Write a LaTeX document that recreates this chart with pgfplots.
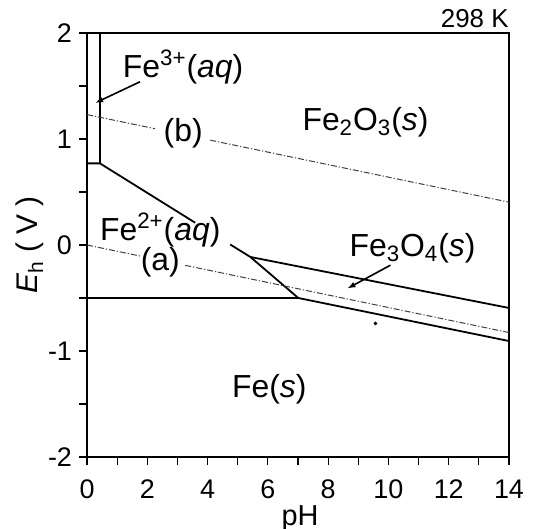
\documentclass[border=0pt]{standalone}
\usepackage{fontspec}
\setmainfont{Liberation Sans}
\usepackage{pgfplots}
\pgfplotsset{compat=1.18}
\usetikzlibrary{arrows.meta}

\newcommand{\lab}{\fontsize{16}{18}\selectfont}

\begin{document}
\begin{tikzpicture}
\begin{axis}[
  scale only axis,
  width=211bp, height=212bp,
  xmin=0, xmax=14, ymin=-2, ymax=2,
  clip=false,
  xtick={0,2,...,14}, minor xtick={1,3,...,13},
  ytick={-2,-1,0,1,2}, minor ytick={-1.5,-0.5,0.5,1.5},
  xtick pos=bottom, ytick pos=left,
  tick align=outside,
  major tick length=4bp, minor tick length=4bp,
  tick style={black, line width=0.6bp},
  axis line style={line width=1bp},
  /pgf/number format/assume math mode=true,
  ticklabel style={font=\fontsize{13.5}{15}\selectfont},
  xticklabel style={yshift=-4bp},
  xlabel={pH},
  ylabel={\textit{E}\textsubscript{h} ( V )},
  every axis x label/.style={at={(axis description cs:0.505,0)}, anchor=center, yshift=-31bp, font=\fontsize{14.5}{16}\selectfont},
  every axis y label/.style={at={(axis description cs:0,0.5)}, xshift=-28.5bp, rotate=90, anchor=center, font=\fontsize{15}{17}\selectfont},
  bd/.style={black, line width=0.9bp, no marks},
  wl/.style={black!75, line width=0.5bp, no marks, dash pattern=on 3bp off 1bp on 0.6bp off 1bp},
]
% phase boundaries
\addplot[bd] coordinates {(0.43,2) (0.43,0.77)};
\addplot[bd] coordinates {(0,0.77) (0.43,0.77) (3.59,0.21)};
\addplot[bd] coordinates {(4.75,0.005) (5.42,-0.113) (7.01,-0.5)};
\addplot[bd] coordinates {(0,-0.5) (7.01,-0.5) (14,-0.906)};
\addplot[bd] coordinates {(5.42,-0.113) (14,-0.594)};
% water stability lines
\addplot[wl] coordinates {(0,0) (1.76,-0.104)};
\addplot[wl] coordinates {(3.26,-0.192) (14,-0.826)};
\addplot[wl] coordinates {(0,1.23) (2.26,1.097)};
\addplot[wl] coordinates {(4.09,0.989) (14,0.404)};
% speck
\addplot[only marks, mark=*, mark size=0.7bp, black] coordinates {(9.57,-0.74)};

\node[font=\lab] at (axis cs:3.19,1.68) {Fe\textsuperscript{3+}(\textit{aq})};
\node[font=\lab] at (axis cs:3.19,1.05) {(b)};
\node[font=\lab] at (axis cs:9.24,1.16) {Fe\textsubscript{2}O\textsubscript{3}(\textit{s})};
\node[font=\lab] at (axis cs:2.43,0.14) {Fe\textsuperscript{2+}(\textit{aq})};
\node[font=\lab] at (axis cs:2.43,-0.16) {(a)};
\node[font=\lab] at (axis cs:10.8,-0.03) {Fe\textsubscript{3}O\textsubscript{4}(\textit{s})};
\node[font=\lab] at (axis cs:6.05,-1.36) {Fe(\textit{s})};

\draw[-{Latex[length=4bp,width=3bp]}, line width=0.8bp] (axis cs:1.76,1.54) -- (axis cs:0.27,1.34);
\draw[-{Latex[length=4bp,width=3bp]}, line width=0.8bp] (axis cs:10.07,-0.19) -- (axis cs:8.64,-0.41);

\node[anchor=base east, inner sep=0pt, font=\fontsize{13}{15}\selectfont] at ([yshift=2.5bp]rel axis cs:1,1) {298 K};
\end{axis}
\pgfresetboundingbox
\path[use as bounding box] ([shift={(-43.5bp,-36bp)}]current axis.south west) rectangle ([shift={(15bp,16.5bp)}]current axis.north east);
\end{tikzpicture}
\end{document}
